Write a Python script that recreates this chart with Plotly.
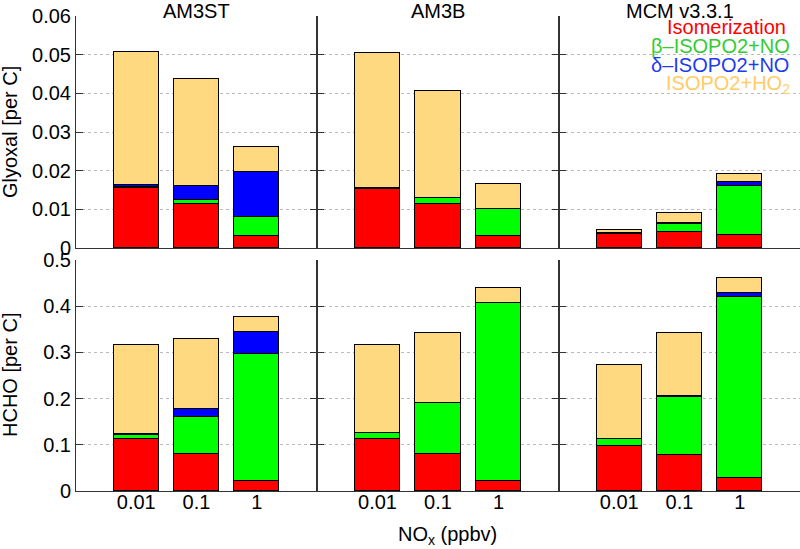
import plotly.graph_objects as go
from plotly.subplots import make_subplots

# ---- data ----
models = ["AM3ST", "AM3B", "MCM v3.3.1"]
nox_labels = ["0.01", "0.1", "1"]
nox_pos = [1, 2, 3]
pathways = ["Isomerization", "β–ISOPO2+NO", "δ–ISOPO2+NO", "ISOPO2+HO2"]

# Glyoxal [per C], stacked contributions per model (NOx = 0.01, 0.1, 1)
gly_isom = {"AM3ST": [0.0155, 0.0114, 0.0031], "AM3B": [0.0153, 0.0114, 0.0032], "MCM v3.3.1": [0.0037, 0.0041, 0.0033]}
gly_beta = {"AM3ST": [0.0002, 0.0010, 0.0048], "AM3B": [0.0002, 0.0015, 0.0068], "MCM v3.3.1": [0.0001, 0.0021, 0.0128]}
gly_delta = {"AM3ST": [0.0005, 0.0036, 0.0118], "AM3B": [0.0001, 0.0, 0.0], "MCM v3.3.1": [0.0001, 0.0002, 0.0010]}
gly_ho2 = {"AM3ST": [0.0346, 0.0276, 0.0064], "AM3B": [0.0349, 0.0277, 0.0066], "MCM v3.3.1": [0.0008, 0.0026, 0.0020]}

# HCHO [per C]
hcho_isom = {"AM3ST": [0.112, 0.080, 0.022], "AM3B": [0.112, 0.080, 0.021], "MCM v3.3.1": [0.097, 0.078, 0.029]}
hcho_beta = {"AM3ST": [0.009, 0.080, 0.275], "AM3B": [0.013, 0.111, 0.385], "MCM v3.3.1": [0.016, 0.126, 0.391]}
hcho_delta = {"AM3ST": [0.003, 0.017, 0.047], "AM3B": [0.0, 0.0, 0.0], "MCM v3.3.1": [0.0, 0.002, 0.009]}
hcho_ho2 = {"AM3ST": [0.191, 0.153, 0.033], "AM3B": [0.190, 0.152, 0.033], "MCM v3.3.1": [0.160, 0.136, 0.031]}

gly_ticks = [0, 0.01, 0.02, 0.03, 0.04, 0.05, 0.06]
hcho_ticks = [0, 0.1, 0.2, 0.3, 0.4, 0.5]

bar_colors = ["#FF0000", "#00FF00", "#0000FF", "#FFD980"]
legend_colors = ["#FF0000", "#33CC33", "#1F3BF0", "#FFCC66"]

FONT = "Liberation Sans, Arial, sans-serif"
AX = "#333333"

fig = make_subplots(rows=2, cols=3)

rows = [
    (gly_isom, gly_beta, gly_delta, gly_ho2),
    (hcho_isom, hcho_beta, hcho_delta, hcho_ho2),
]
for r, series in enumerate(rows, start=1):
    for c, m in enumerate(models, start=1):
        for k, s in enumerate(series):
            fig.add_trace(go.Bar(
                x=nox_pos, y=s[m], width=0.75,
                marker=dict(color=bar_colors[k], line=dict(color="black", width=1)),
                name=pathways[k], showlegend=False,
            ), row=r, col=c)

fig.update_layout(barmode="stack")

W, H = 800, 549
xdom = [(76, 317), (317, 559), (559, 800)]
ydom = [(16, 248), (260, 491)]

for r in range(2):
    for c in range(3):
        idx = r * 3 + c + 1
        xn = "xaxis" if idx == 1 else f"xaxis{idx}"
        yn = "yaxis" if idx == 1 else f"yaxis{idx}"
        x0, x1 = xdom[c]
        ytop, ybot = ydom[r]
        fig.layout[xn].update(
            domain=[x0 / W, x1 / W], range=[0, 4],
            tickvals=nox_pos, ticktext=nox_labels,
            showticklabels=(r == 1), ticks="", ticklabelstandoff=-7,
            showline=True, linecolor=AX, linewidth=1,
            showgrid=False, zeroline=False, automargin=False,
            tickfont=dict(family=FONT, size=20, color="black"),
        )
        ticks = gly_ticks if r == 0 else hcho_ticks
        fig.layout[yn].update(
            domain=[1 - ybot / H, 1 - ytop / H],
            range=[0, ticks[-1]], tickvals=ticks,
            ticktext=[("0" if t == 0 else f"{t:g}") for t in ticks],
            showticklabels=(c == 0),
            ticks="inside", ticklen=7, tickcolor=AX, tickwidth=1,
            showline=True, linecolor=AX, linewidth=1,
            mirror=("ticks" if c < 2 else False),
            showgrid=True, gridcolor="#BBBBBB", griddash="dot", gridwidth=1,
            zeroline=False, automargin=False,
            tickfont=dict(family=FONT, size=20, color="black"),
        )

annos = []
for c, m in enumerate(models):
    x0, x1 = xdom[c]
    annos.append(dict(text=m, x=(x0 + x1) / 2 / W, y=1.0, xref="paper", yref="paper",
                      xanchor="center", yanchor="top", showarrow=False,
                      borderpad=0, borderwidth=0,
                      font=dict(family=FONT, size=20, color="black")))
annos.append(dict(text="Glyoxal [per C]", x=10 / W, y=1 - 132 / H, xref="paper", yref="paper",
                  xanchor="center", yanchor="middle", textangle=-90, showarrow=False,
                  font=dict(family=FONT, size=20, color="black")))
annos.append(dict(text="HCHO [per C]", x=10 / W, y=1 - 375 / H, xref="paper", yref="paper",
                  xanchor="center", yanchor="middle", textangle=-90, showarrow=False,
                  font=dict(family=FONT, size=20, color="black")))
annos.append(dict(text="NO<sub>x</sub> (ppbv)", x=447 / W, y=1 - 535 / H, xref="paper", yref="paper",
                  xanchor="center", yanchor="middle", showarrow=False,
                  font=dict(family=FONT, size=20, color="black")))
legend_text = ["Isomerization", "β–ISOPO2+NO", "δ–ISOPO2+NO", "ISOPO2+HO<sub>2</sub>"]
legend_x = [726, 720, 720, 728]
legend_y = [27, 46.5, 65.5, 85]
for t, xx, yy, col in zip(legend_text, legend_x, legend_y, legend_colors):
    annos.append(dict(text=t, x=xx / W, y=1 - yy / H, xref="paper", yref="paper",
                      xanchor="center", yanchor="middle", showarrow=False,
                      borderpad=0, borderwidth=0,
                      font=dict(family=FONT, size=20, color=col)))

fig.update_layout(
    width=W, height=H,
    margin=dict(l=0, r=0, t=0, b=0, pad=0, autoexpand=False),
    paper_bgcolor="white", plot_bgcolor="white",
    annotations=annos, bargap=0, showlegend=False,
)

fig.write_html("out.html", config={"displayModeBar": False},
               post_script="document.body.style.margin='0';document.body.style.padding='0';")
